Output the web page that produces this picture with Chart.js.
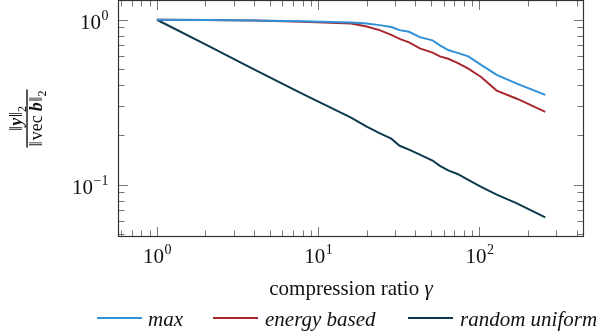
<!DOCTYPE html>
<html>
<head>
<meta charset="utf-8">
<script src="https://cdn.jsdelivr.net/npm/chart.js@4/dist/chart.umd.min.js"></script>
<style>
  html, body { margin: 0; padding: 0; background: #fff; }
  canvas { display: block; }
</style>
</head>
<body>
<canvas id="ratioChart" width="600" height="333"></canvas>
<script>
// compression ratios (x) and normalised norms for each selection method
const ratios = [1, 2, 4, 8, 16, 20, 24, 28.4, 32, 36.6, 42.7, 51.2, 56.9, 64, 73.1, 85.3, 102.4, 128, 170.7, 256];
const maxSel = [1.0, 0.998, 0.991, 0.978, 0.962, 0.948, 0.928, 0.903, 0.865, 0.845, 0.785, 0.75, 0.70, 0.655, 0.63, 0.60, 0.532, 0.463, 0.41, 0.35];
const energySel = [1.0, 0.997, 0.99, 0.972, 0.95, 0.91, 0.865, 0.81, 0.765, 0.73, 0.67, 0.632, 0.60, 0.58, 0.548, 0.505, 0.45, 0.372, 0.332, 0.276];
const randomSel = [1.0, 0.71, 0.5, 0.355, 0.255, 0.225, 0.205, 0.19, 0.172, 0.163, 0.152, 0.14, 0.13, 0.122, 0.116, 0.107, 0.097, 0.087, 0.077, 0.0633];
const seriesNames = ['max', 'energy based', 'random uniform'];
const seriesColors = ['#3090d8', '#a8282f', '#0d3a4c'];
const xTickLabels = [[1, '0'], [10, '1'], [100, '2']];
const yTickLabels = [[1, '0'], [0.1, '\u22121']];

const serif = '"Liberation Serif", "DejaVu Serif", serif';

function pts(ys) {
    return ratios.map((x, i) => ({ x: x, y: ys[i] }));
}

const decorations = {
    id: 'decorations',
    afterDatasetsDraw: (chart) => {
        const ctx = chart.ctx;
        const a = chart.chartArea;
        const xs = chart.scales.x;
        const ys = chart.scales.y;
        ctx.save();

        // log ticks on all four sides, pointing inwards
        ctx.strokeStyle = '#777';
        ctx.lineWidth = 1;
        ctx.beginPath();
        for (let n = -1; n <= 2; n++) {
            for (let k = 1; k <= 9; k++) {
                const v = k * Math.pow(10, n);
                if (v < xs.min || v > xs.max) continue;
                const px = Math.round(xs.getPixelForValue(v)) + 0.5;
                const len = k === 1 ? 10 : 6.5;
                ctx.moveTo(px, a.bottom); ctx.lineTo(px, a.bottom - len);
                ctx.moveTo(px, a.top); ctx.lineTo(px, a.top + len);
            }
        }
        for (let n = -2; n <= 0; n++) {
            for (let k = 1; k <= 9; k++) {
                const v = k * Math.pow(10, n);
                if (v < ys.min || v > ys.max) continue;
                const py = Math.round(ys.getPixelForValue(v)) + 0.5;
                const len = k === 1 ? 10 : 6.5;
                ctx.moveTo(a.left, py); ctx.lineTo(a.left + len, py);
                ctx.moveTo(a.right, py); ctx.lineTo(a.right - len, py);
            }
        }
        ctx.stroke();

        // frame
        ctx.strokeStyle = '#333';
        ctx.lineWidth = 1.2;
        ctx.strokeRect(a.left + 0.5, a.top + 0.5, a.right - a.left - 1, a.bottom - a.top - 1);

        // tick labels 10^n
        ctx.fillStyle = '#111';
        ctx.textBaseline = 'alphabetic';
        function power(x, y, exp, align) {
            ctx.font = '21px ' + serif;
            const w1 = ctx.measureText('10').width;
            ctx.font = '14px ' + serif;
            const w2 = ctx.measureText(exp).width;
            const start = align === 'center' ? x - (w1 + w2) / 2 : x - w1 - w2;
            ctx.textAlign = 'left';
            ctx.font = '21px ' + serif;
            ctx.fillText('10', start, y);
            ctx.font = '14px ' + serif;
            ctx.fillText(exp, start + w1 + 0.5, y - 9);
        }
        xTickLabels.forEach(([v, e]) => power(xs.getPixelForValue(v), a.bottom + 26, e, 'center'));
        yTickLabels.forEach(([v, e]) => power(a.left - 10, ys.getPixelForValue(v) + 9, e, 'right'));

        // x axis title
        ctx.textAlign = 'left';
        const t1 = 'compression ratio ';
        ctx.font = 'italic 21px ' + serif;
        const gw = ctx.measureText('\u03b3').width;
        ctx.font = '21px ' + serif;
        const tw = ctx.measureText(t1).width;
        const tx = (a.left + a.right) / 2 - (tw + gw) / 2;
        ctx.fillText(t1, tx, 295);
        ctx.font = 'italic 21px ' + serif;
        ctx.fillText('\u03b3', tx + tw, 295);

        // y axis title: fraction ||y||_2 / ||vec b||_2, rotated
        ctx.save();
        ctx.translate(27, (a.top + a.bottom) / 2);
        ctx.rotate(-Math.PI / 2);
        function runs(parts, y) {
            let w = 0;
            parts.forEach(p => { ctx.font = p[1]; w += ctx.measureText(p[0]).width + (p[3] || 0); });
            let x = -w / 2;
            parts.forEach(p => {
                ctx.font = p[1];
                ctx.fillText(p[0], x, y + (p[2] || 0));
                x += ctx.measureText(p[0]).width + (p[3] || 0);
            });
            return w;
        }
        const fn = '19px ' + serif;
        const fr = '18px ' + serif;
        const fb = 'italic bold 18px ' + serif;
        const f12 = '12px ' + serif;
        ctx.textAlign = 'left';
        runs([['\u2016', fn, 0, 0], ['y', fb, 0, 0.5], ['\u2016', fn, 0, 0], ['2', f12, 4, 0]], -5);
        const dw = runs([['\u2016', fn, 0, 1], ['vec', fr, 0, 4], ['b', fb, 0, 0.5], ['\u2016', fn, 0, 0], ['2', f12, 4, 0]], 15);
        ctx.fillRect(-dw / 2 - 1, -0.7, dw + 2, 1.4);
        ctx.restore();

        // legend
        const items = [[97, 148], [213, 265], [408, 460]];
        ctx.font = 'italic 21px ' + serif;
        ctx.textAlign = 'left';
        items.forEach(([lx, tx2], i) => {
            ctx.strokeStyle = seriesColors[i];
            ctx.lineWidth = 2;
            ctx.beginPath();
            ctx.moveTo(lx, 318);
            ctx.lineTo(lx + 45, 318);
            ctx.stroke();
            ctx.fillStyle = '#111';
            ctx.fillText(seriesNames[i], tx2, 326);
        });

        ctx.restore();
    }
};

new Chart(document.getElementById('ratioChart').getContext('2d'), {
    type: 'line',
    data: {
        datasets: [maxSel, energySel, randomSel].map((ys, i) => ({
            label: seriesNames[i],
            data: pts(ys),
            borderColor: seriesColors[i],
            backgroundColor: seriesColors[i],
            borderWidth: 2,
            pointRadius: 0,
            tension: 0,
            fill: false
        }))
    },
    options: {
        responsive: false,
        animation: false,
        layout: { padding: { left: 118, right: 16, top: 0, bottom: 96 } },
        scales: {
            x: { type: 'logarithmic', min: 0.574, max: 445, display: false },
            y: { type: 'logarithmic', min: 0.0481, max: 1.318, display: false }
        },
        plugins: {
            legend: { display: false },
            tooltip: { enabled: false }
        }
    },
    plugins: [decorations]
});
</script>
</body>
</html>
